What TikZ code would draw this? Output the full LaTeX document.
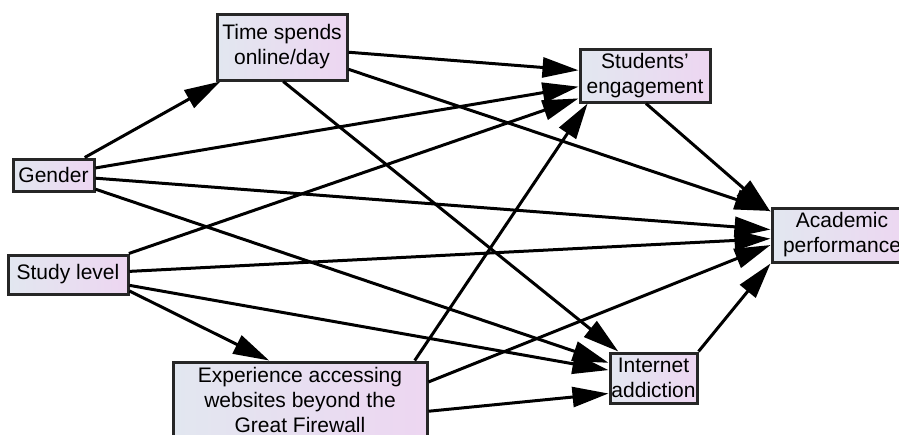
\documentclass[tikz,border=0pt]{standalone}
\usepackage{fontspec}
\setmainfont{Liberation Sans}
\usetikzlibrary{arrows.meta}
\definecolor{boxleft}{HTML}{E2E7F0}
\definecolor{boxright}{HTML}{EDD6F1}

\begin{document}
\begin{tikzpicture}[x=0.5pt,y=-0.5pt]
        \useasboundingbox (0,0) rectangle (899,434);

        \begin{scope}[every node/.style={draw=black!85,line width=1.5pt,
            left color=boxleft,right color=boxright,align=center,inner sep=0pt,
            font=\fontsize{10.5}{12.5}\selectfont}]
          \node[minimum width=40.5pt,minimum height=16pt]  (gender)   at (53.5,175) {Gender};
          \node[minimum width=60pt,minimum height=19.5pt]  (study)    at (68,274.5) {Study level};
          \node[minimum width=65pt,minimum height=33pt]    (time)     at (282,47)   {Time spends\\online/day};
          \node[minimum width=65pt,minimum height=26.5pt]  (engage)   at (645,75.5) {Students'\\engagement};
          \node[minimum width=70pt,minimum height=27pt]    (academic) at (842,235)  {Academic\\performance};
          \node[minimum width=127pt,minimum height=38pt]   (exper)    at (300,400)  {Experience accessing\\websites beyond the\\Great Firewall};
          \node[minimum width=43.5pt,minimum height=25pt]  (internet) at (653.5,378) {Internet\\addiction};
        \end{scope}

        \begin{scope}[every edge/.style={draw,line width=1.5pt,-{Triangle[length=18pt,width=10pt]}}]
          \path (gender)   edge (time);
          \path (gender)   edge (engage);
          \path (gender)   edge (academic);
          \path (gender)   edge (internet);
          \path (time)     edge (engage);
          \path (time)     edge (academic);
          \path (time.-88) edge (internet.143);
          \path (study)    edge (engage);
          \path (study)    edge (academic);
          \path (study)    edge (internet);
          \path (study.-15) edge (exper.128);
          \path (exper.19) edge (engage.206);
          \path (exper.8)  edge (academic.188);
          \path (exper.-5) edge (internet.199);
          \path (engage.-88) edge (academic.162);
          \path (internet.north east) edge (academic.south west);
        \end{scope}

      \end{tikzpicture}
\end{document}
